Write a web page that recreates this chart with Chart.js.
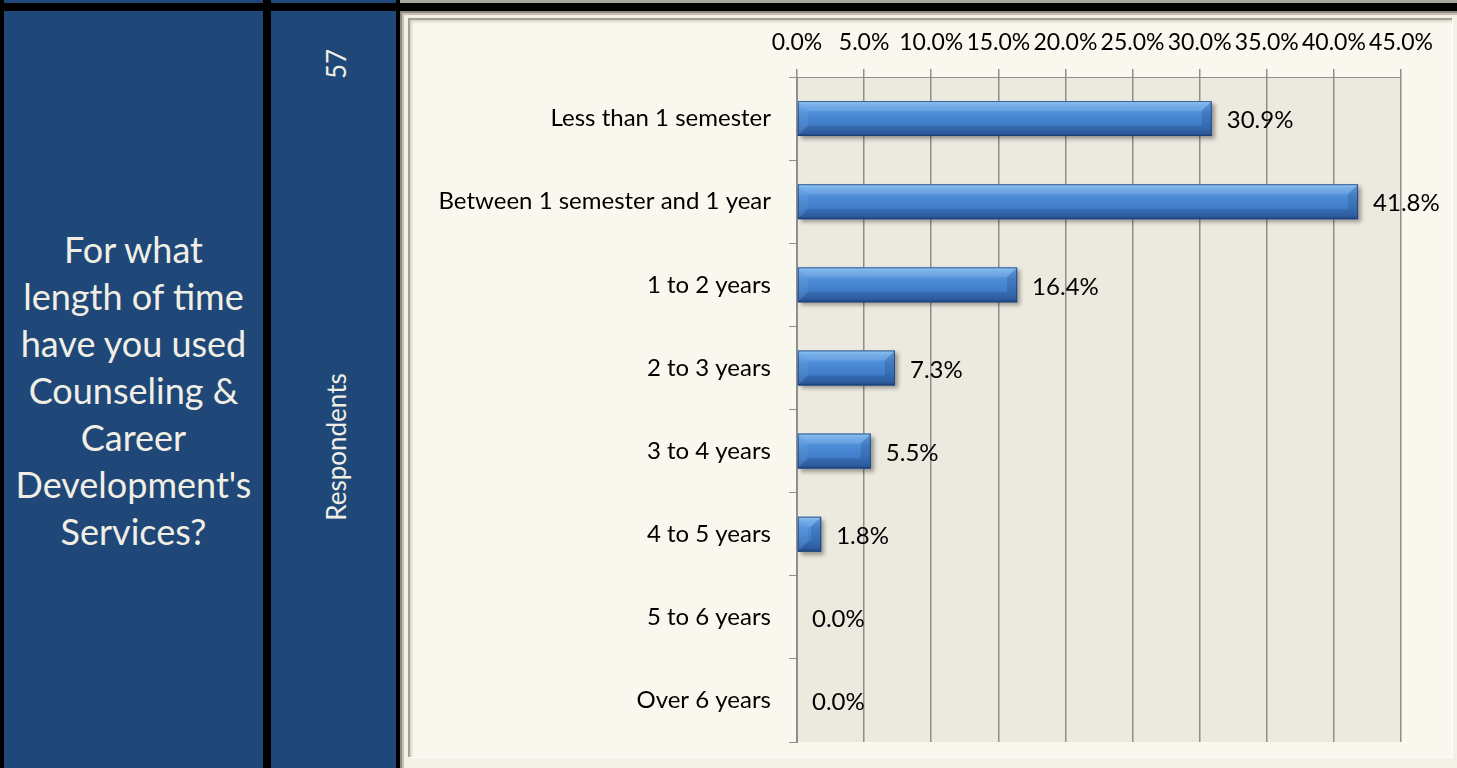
<!DOCTYPE html>
<html>
<head>
<meta charset="utf-8">
<script src="https://cdn.jsdelivr.net/npm/chart.js@4.4.0/dist/chart.umd.min.js"></script>
<style>
  body { margin: 0; width: 1457px; height: 768px; overflow: hidden; background: #000; font-family: Lato, "Noto Sans", sans-serif; position: relative; }
  .blue { position: absolute; background: #1F4878; }
  #question { left: 4px; top: 11px; width: 259px; height: 757px; display: flex; align-items: center; justify-content: center; }
  #question div { color: #F1EFE5; font-size: 36px; line-height: 47px; text-align: center; padding-top: 2px; white-space: nowrap; }
  #respCol { left: 271px; top: 11px; width: 125px; height: 757px; }
  .rot { position: absolute; color: #F1EFE5; font-size: 26px; white-space: nowrap; transform: translate(-50%, -50%) rotate(-90deg); }
  #frame { position: absolute; left: 400px; top: 11px; width: 1057px; height: 757px; background: #F3F1E6;
           box-shadow: inset 2px 2px 0 #8f8d82, inset 4px 4px 0 #c4c1b3; }
  #inner { position: absolute; left: 8px; top: 7px; width: 1044px; height: 739px; background: #FAF8EE;
           box-shadow: inset 2px 2px 1px #a19f93, inset 4px 4px 3px #d9d6c9, 1px 1px 0 #ffffff; }
  #wrap { position: absolute; left: 400px; top: 11px; width: 1057px; height: 757px; }
  canvas { display: block; }
</style>
</head>
<body>
<div class="blue" style="left:4px;top:0;width:259px;height:3px"></div>
<div class="blue" style="left:271px;top:0;width:125px;height:3px"></div>
<div style="position:absolute;left:400px;top:0;width:1057px;height:3px;background:#a9a79b"></div>
<div class="blue" id="question"><div id="qtext"></div></div>
<div class="blue" id="respCol"></div>
<div class="rot" id="count" style="left:336px;top:64px"></div>
<div class="rot" id="respLabel" style="left:336px;top:447px"></div>
<div id="frame"><div id="inner"></div></div>
<div id="wrap"><canvas id="chart" width="1057" height="757"></canvas></div>

<script>
const questionLines = ['For what', 'length of time', 'have you used', 'Counseling &', 'Career', "Development's", 'Services?'];
const respondentCount = 57;
const respondentLabel = 'Respondents';

const categories = ['Less than 1 semester', 'Between 1 semester and 1 year', '1 to 2 years', '2 to 3 years',
                    '3 to 4 years', '4 to 5 years', '5 to 6 years', 'Over 6 years'];
const percents = [30.9, 41.8, 16.4, 7.3, 5.5, 1.8, 0.0, 0.0];
const axisMin = 0;
const axisMax = 45;
const axisStep = 5;

document.getElementById('qtext').innerHTML = questionLines.join('<br>');
document.getElementById('count').textContent = respondentCount;
document.getElementById('respLabel').textContent = respondentLabel;

const gridGrey = '#8E8E8E';
const fontFamily = 'Lato, "Noto Sans", sans-serif';

// plot area background
const plotBg = {
    id: 'plotBg',
    beforeDraw(chart) {
        const a = chart.chartArea, ctx = chart.ctx;
        ctx.save();
        ctx.fillStyle = '#ECE9DF';
        ctx.fillRect(a.left, a.top, a.right - a.left, a.bottom - a.top);
        ctx.restore();
    }
};

// drop shadow under the bars
const barShadow = {
    id: 'barShadow',
    beforeDatasetDraw(chart) {
        const ctx = chart.ctx;
        ctx.save();
        ctx.shadowColor = 'rgba(0,0,0,0.35)';
        ctx.shadowOffsetX = 3;
        ctx.shadowOffsetY = 3;
        ctx.shadowBlur = 4;
    },
    afterDatasetDraw(chart) {
        chart.ctx.restore();
    }
};

// bevel look on the bars + value labels
const bevelAndLabels = {
    id: 'bevelAndLabels',
    afterDatasetsDraw(chart) {
        const ctx = chart.ctx;
        const meta = chart.getDatasetMeta(0);
        meta.data.forEach((bar, i) => {
            const x0 = Math.min(bar.base, bar.x), x1 = Math.max(bar.base, bar.x);
            const y0 = bar.y - bar.height / 2, y1 = bar.y + bar.height / 2;
            const w = x1 - x0;
            if (w > 1) {
                const b = Math.min(10, w / 2, bar.height / 2);
                ctx.save();
                const g = ctx.createLinearGradient(0, y0, 0, y1);
                g.addColorStop(0, '#8CC3F5');
                g.addColorStop(0.1, '#6AA8E8');
                g.addColorStop(0.35, '#4D8DD8');
                g.addColorStop(0.7, '#3F7AC5');
                g.addColorStop(0.9, '#3669B0');
                g.addColorStop(1, '#264F8A');
                ctx.fillStyle = g;
                ctx.fillRect(x0, y0, w, y1 - y0);
                const poly = (pts, fill) => {
                    ctx.beginPath();
                    ctx.moveTo(pts[0][0], pts[0][1]);
                    for (let k = 1; k < pts.length; k++) ctx.lineTo(pts[k][0], pts[k][1]);
                    ctx.closePath();
                    ctx.fillStyle = fill;
                    ctx.fill();
                };
                poly([[x0, y0], [x1, y0], [x1 - b, y0 + b], [x0 + b, y0 + b]], 'rgba(255,255,255,0.10)');
                poly([[x0, y1], [x1, y1], [x1 - b, y1 - b], [x0 + b, y1 - b]], 'rgba(10,30,70,0.15)');
                poly([[x1, y0], [x1, y1], [x1 - b, y1 - b], [x1 - b, y0 + b]], 'rgba(20,50,100,0.2)');
                poly([[x0, y0], [x0, y1], [x0 + b, y1 - b], [x0 + b, y0 + b]], 'rgba(255,255,255,0.06)');
                ctx.strokeStyle = 'rgba(30,60,110,0.75)';
                ctx.lineWidth = 1;
                ctx.strokeRect(x0 + 0.5, y0 + 0.5, w - 1, y1 - y0 - 1);
                ctx.restore();
            }
            ctx.save();
            ctx.font = '24px ' + fontFamily;
            ctx.fillStyle = '#000';
            ctx.textBaseline = 'middle';
            ctx.textAlign = 'left';
            ctx.fillText(percents[i].toFixed(1) + '%', x1 + 15, bar.y + 2);
            ctx.restore();
        });
    }
};

const ctx = document.getElementById('chart').getContext('2d');
new Chart(ctx, {
    type: 'bar',
    data: {
        labels: categories,
        datasets: [{
            data: percents,
            backgroundColor: '#4282CD',
            borderWidth: 0,
            categoryPercentage: 1.0,
            barPercentage: 0.42
        }]
    },
    options: {
        indexAxis: 'y',
        responsive: false,
        animation: false,
        layout: { padding: { left: 0, top: 0, right: 56, bottom: 26 } },
        plugins: {
            legend: { display: false },
            tooltip: { enabled: false }
        },
        scales: {
            x: {
                position: 'top',
                min: axisMin,
                max: axisMax,
                ticks: {
                    stepSize: axisStep,
                    autoSkip: false,
                    maxRotation: 0,
                    color: '#000',
                    padding: 13,
                    font: { family: fontFamily, size: 23 },
                    callback: v => v.toFixed(1) + '%'
                },
                grid: { color: gridGrey, lineWidth: 1.5, tickLength: 8 },
                border: { display: true, color: gridGrey, width: 1 },
                afterFit(scale) {
                    scale.height = 66;
                    scale.paddingLeft = 0;
                    scale.paddingRight = 0;
                }
            },
            y: {
                ticks: {
                    autoSkip: false,
                    color: '#000',
                    padding: 18,
                    font: { family: fontFamily, size: 24 }
                },
                grid: { drawOnChartArea: false, drawTicks: true, tickLength: 8, color: gridGrey, offset: true },
                border: { display: true, color: gridGrey, width: 1 },
                afterFit(scale) {
                    scale.width = 397;
                    scale.paddingTop = 0;
                    scale.paddingBottom = 0;
                }
            }
        }
    },
    plugins: [plotBg, barShadow, bevelAndLabels]
});
</script>
</body>
</html>
